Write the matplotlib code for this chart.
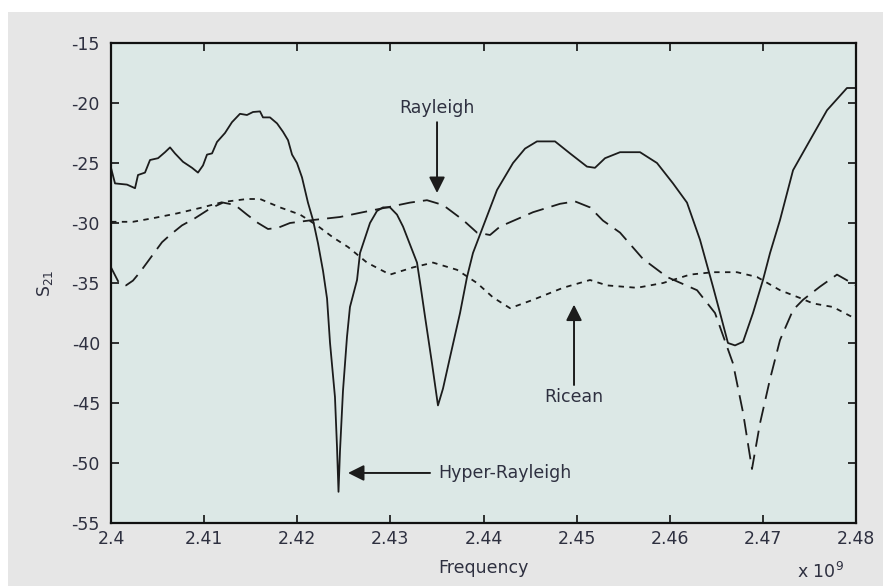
import matplotlib
matplotlib.use("Agg")
import matplotlib.pyplot as plt
from matplotlib.patches import Rectangle

plt.rcParams['font.family'] = ['DejaVu Sans']
plt.rcParams['mathtext.default'] = 'regular'
plt.rcParams['axes.unicode_minus'] = False

# ---- data (frequency in GHz, S21 in dB) ----
hyper_f = [2.40000, 2.40043, 2.40172, 2.40258, 2.40290, 2.40365, 2.40419, 2.40505,
           2.40580, 2.40634, 2.40687, 2.40773, 2.40870, 2.40934, 2.40988, 2.41031,
           2.41085, 2.41138, 2.41224, 2.41299, 2.41385, 2.41460, 2.41525, 2.41600,
           2.41632, 2.41707, 2.41783, 2.41847, 2.41901, 2.41944, 2.41997, 2.42051,
           2.42083, 2.42115, 2.42169, 2.42223, 2.42277, 2.42320, 2.42352, 2.42405,
           2.42427, 2.42443, 2.42459, 2.42491, 2.42534, 2.42566, 2.42642, 2.42674,
           2.42781, 2.42856, 2.42921, 2.42996, 2.43071, 2.43136, 2.43211, 2.43286,
           2.43329, 2.43372, 2.43447, 2.43511, 2.43565, 2.43640, 2.43748, 2.43823,
           2.43887, 2.43995, 2.44145, 2.44317, 2.44446, 2.44574, 2.44768, 2.44929,
           2.45111, 2.45197, 2.45305, 2.45466, 2.45681, 2.45863, 2.46035, 2.46185,
           2.46325, 2.46464, 2.46540, 2.46625, 2.46701, 2.46787, 2.46894, 2.47001,
           2.47077, 2.47184, 2.47324, 2.47506, 2.47689, 2.47903, 2.48000]
hyper_s21 = [-25.4, -26.7, -26.8, -27.1, -26.0, -25.8, -24.75, -24.6,
             -24.1, -23.7, -24.2, -24.9, -25.4, -25.8, -25.2, -24.3,
             -24.2, -23.25, -22.5, -21.6, -20.9, -21.0, -20.75, -20.7,
             -21.2, -21.2, -21.7, -22.4, -23.1, -24.3, -25.0, -26.2,
             -27.25, -28.3, -29.75, -31.7, -34.0, -36.3, -40.0, -44.5,
             -48.7, -52.4, -49.0, -44.0, -39.5, -37.0, -34.75, -32.5,
             -30.0, -29.0, -28.7, -28.7, -29.3, -30.3, -31.8, -33.3,
             -35.5, -37.8, -41.7, -45.2, -43.8, -41.2, -37.5, -34.5,
             -32.5, -30.3, -27.25, -25.0, -23.8, -23.2, -23.2, -24.2,
             -25.3, -25.4, -24.6, -24.1, -24.1, -25.0, -26.7, -28.3,
             -31.4, -35.3, -37.5, -40.0, -40.2, -39.9, -37.5, -34.75,
             -32.5, -29.75, -25.6, -23.1, -20.6, -18.75, -18.75]

rayleigh_f = [2.40000, 2.40086, 2.40161, 2.40236, 2.40311, 2.40387, 2.40472, 2.40548,
              2.40634, 2.40762, 2.40902, 2.41063, 2.41203, 2.41332, 2.41460, 2.41579,
              2.41686, 2.41793, 2.41922, 2.42169, 2.42459, 2.42706, 2.42964, 2.43211,
              2.43393, 2.43565, 2.43780, 2.43930, 2.44070, 2.44177, 2.44532, 2.44822,
              2.44983, 2.45144, 2.45283, 2.45466, 2.45713, 2.45971, 2.46293, 2.46486,
              2.46679, 2.46787, 2.46883, 2.46969, 2.47077, 2.47184, 2.47324, 2.47431,
              2.47614, 2.47796, 2.48000]
rayleigh_s21 = [-33.7, -35.0, -35.2, -34.8, -34.1, -33.3, -32.4, -31.6,
                -31.0, -30.2, -29.6, -28.8, -28.3, -28.5, -29.3, -30.0,
                -30.5, -30.4, -30.0, -29.75, -29.5, -29.1, -28.7, -28.3,
                -28.1, -28.5, -29.75, -30.8, -31.0, -30.3, -29.1, -28.4,
                -28.2, -28.7, -29.8, -30.8, -33.0, -34.5, -35.6, -37.5,
                -41.7, -45.8, -50.5, -46.7, -43.0, -39.75, -37.25, -36.4,
                -35.3, -34.3, -35.2]

ricean_f = [2.40000, 2.40236, 2.40451, 2.40709, 2.40956, 2.41203, 2.41460, 2.41600,
            2.41815, 2.42030, 2.42212, 2.42384, 2.42545, 2.42749, 2.42996, 2.43243,
            2.43458, 2.43715, 2.43930, 2.44102, 2.44285, 2.44532, 2.44854, 2.45144,
            2.45326, 2.45648, 2.45928, 2.46218, 2.46464, 2.46722, 2.46937, 2.47184,
            2.47399, 2.47538, 2.47753, 2.48000]
ricean_s21 = [-29.9, -29.9, -29.6, -29.2, -28.75, -28.25, -28.0, -28.0,
              -28.7, -29.3, -30.2, -31.2, -32.0, -33.3, -34.3, -33.7,
              -33.3, -33.9, -35.0, -36.2, -37.1, -36.4, -35.4, -34.75,
              -35.2, -35.4, -35.0, -34.3, -34.1, -34.1, -34.5, -35.6,
              -36.25, -36.7, -37.0, -38.0]

x_ticks = [2.40, 2.41, 2.42, 2.43, 2.44, 2.45, 2.46, 2.47, 2.48]
x_tick_labels = ['2.4', '2.41', '2.42', '2.43', '2.44', '2.45', '2.46', '2.47', '2.48']
y_ticks = [-55, -50, -45, -40, -35, -30, -25, -20, -15]

TEXT = '#2e3040'
LINE = '#1c1c1c'
FS = 12.5

fig = plt.figure(figsize=(8.85, 5.86), dpi=100, facecolor='white')
bg = Rectangle((8 / 885, 0), 1 - 8 / 885 - 2 / 885, 1 - 12 / 586,
               transform=fig.transFigure, facecolor='#e6e6e6',
               edgecolor='none', zorder=-10)
fig.patches.append(bg)
ax = fig.add_axes([111 / 885, 1 - 523 / 586, 745 / 885, 480 / 586], zorder=5)
ax.set_facecolor('#dce8e6')

ax.plot(hyper_f, hyper_s21, color=LINE, lw=1.3, linestyle='-')
ax.plot(rayleigh_f, rayleigh_s21, color=LINE, lw=1.3, linestyle=(0, (9, 4.5)))
ax.plot(ricean_f, ricean_s21, color=LINE, lw=1.3, linestyle=(0, (3, 3)))

ax.set_xlim(2.40, 2.48)
ax.set_ylim(-55, -15)
ax.set_xticks(x_ticks)
ax.set_xticklabels(x_tick_labels)
ax.set_yticks(y_ticks)
ax.tick_params(direction='in', length=6, width=1.2, top=True, right=True,
               labelsize=FS, labelcolor=TEXT, color='#111111')
ax.tick_params(axis='x', pad=5)
ax.tick_params(axis='y', pad=8)
for s in ax.spines.values():
    s.set_linewidth(1.6)
    s.set_color('#111111')

ax.set_xlabel('Frequency', fontsize=FS, color=TEXT, labelpad=8)
ax.set_ylabel('S$_{21}$', fontsize=FS, color=TEXT, labelpad=12)
ax.text(0.952, -0.102, 'x 10$^9$', transform=ax.transAxes, ha='center', va='center',
        fontsize=FS, color=TEXT)

arrow = dict(arrowstyle='-|>', mutation_scale=24, lw=1.4, color=LINE,
             shrinkA=0, shrinkB=0)
ax.text(2.43501, -20.4, 'Rayleigh', ha='center', va='center', fontsize=FS, color=TEXT)
ax.annotate('', xy=(2.43501, -27.5), xytext=(2.43501, -21.6), arrowprops=arrow)

ax.text(2.44972, -44.5, 'Ricean', ha='center', va='center', fontsize=FS, color=TEXT)
ax.annotate('', xy=(2.44972, -36.8), xytext=(2.44972, -43.5), arrowprops=arrow)

ax.text(2.43511, -50.83, 'Hyper-Rayleigh', ha='left', va='center', fontsize=FS, color=TEXT)
ax.annotate('', xy=(2.42545, -50.83), xytext=(2.43426, -50.83), arrowprops=arrow)

fig.savefig('out.png', dpi=100, facecolor=fig.get_facecolor())
